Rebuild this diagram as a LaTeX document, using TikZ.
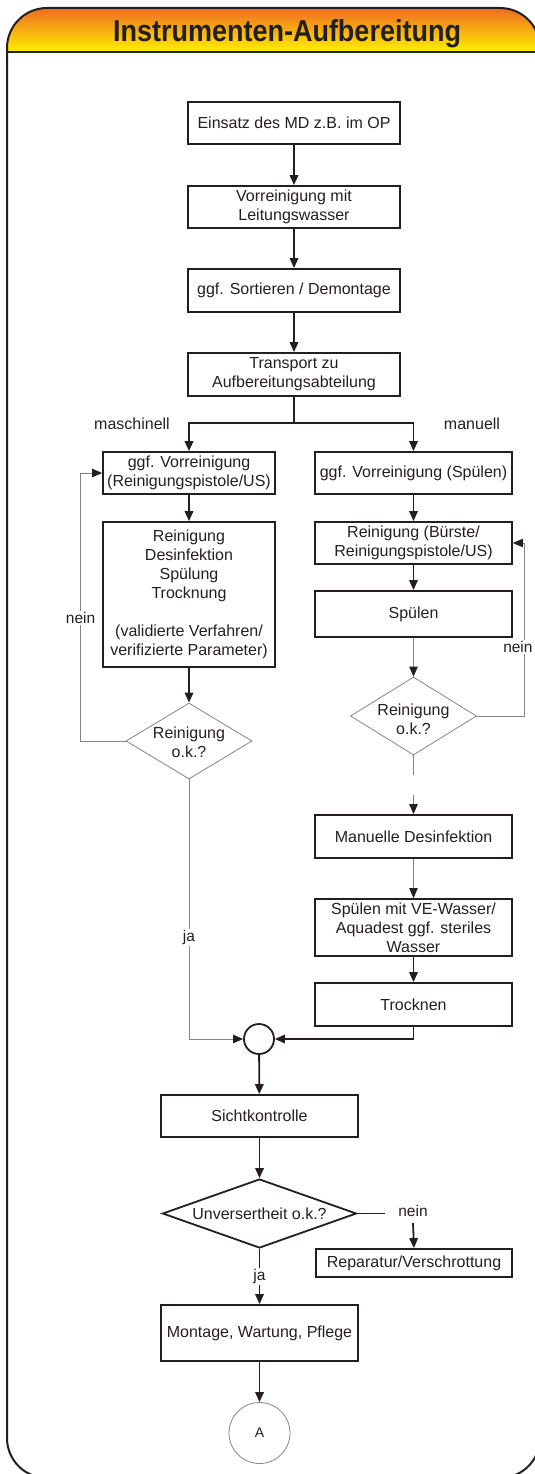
\documentclass[tikz,border=0pt]{standalone}
\usepackage{fontspec}
\setmainfont{Liberation Sans}
\usetikzlibrary{arrows.meta,shapes.geometric}
\definecolor{ink}{HTML}{231F20}
\definecolor{thin}{HTML}{858585}
\definecolor{hdtop}{RGB}{238,108,35}
\definecolor{hdmid}{RGB}{247,160,25}
\definecolor{hdbot}{RGB}{255,240,0}
\begin{document}
\begin{tikzpicture}[x=1pt,y=-1pt,
  every node/.style={text=ink,font=\fontsize{16}{19}\selectfont},
  box/.style={draw=ink,line width=1.8pt,rectangle,align=center,inner sep=0pt},
  dia/.style={diamond,draw=thin,line width=0.8pt,inner sep=0pt},
  thk/.style={draw=ink,line width=1.8pt},
  thn/.style={draw=thin,line width=0.8pt},
  arr/.style={-{Triangle[length=10pt,width=8.5pt,color=ink]}},
  lbl/.style={fill=white,inner sep=1.5pt,font=\fontsize{15.5}{18}\selectfont}]
\useasboundingbox (0,0) rectangle (535,1474);
% frame and header
\begin{scope}
\clip[rounded corners=40pt] (7,8) rectangle (540,1478);
\shade[top color=hdtop,middle color=hdmid,bottom color=hdbot] (7,8) rectangle (540,52);
\end{scope}
\draw[ink,line width=1.6pt] (7,52) -- (540,52);
\draw[ink,line width=2pt,rounded corners=40pt] (7,8) rectangle (540,1478);
\node[font=\fontsize{27}{30}\selectfont\bfseries,anchor=base,inner sep=0pt] (title) at (287,42) {\scalebox{1}[1.12]{Instrumenten-Aufbereitung}};
% main column
\node[box,minimum width=212pt,minimum height=42pt] (B1) at (294,123) {Einsatz des MD z.B. im OP};
\node[box,minimum width=212pt,minimum height=42pt] (B2) at (294,207) {Vorreinigung mit\\Leitungswasser};
\node[box,minimum width=212pt,minimum height=43pt] (B3) at (294,290.5) {ggf. Sortieren / Demontage};
\node[box,minimum width=212pt,minimum height=43pt] (B4) at (294,374.5) {Transport zu\\Aufbereitungsabteilung};
\coordinate (br) at (294,423);
\node (lm) at (132,424) {maschinell};
\node (lr) at (472,424) {manuell};
% left branch
\node[box,minimum width=172pt,minimum height=42pt] (L1) at (189,473) {ggf. Vorreinigung\\(Reinigungspistole/US)};
\node[box,minimum width=172pt,minimum height=145pt] (L2) at (189,594.5) {Reinigung\\Desinfektion\\Spülung\\Trocknung\\[19pt](validierte Verfahren/\\verifizierte Parameter)};
\node[dia,minimum width=126pt,minimum height=76pt] (LD) at (189,741) {};
\node[align=center] (LDt) at (189,742) {Reinigung\\o.k.?};
% right branch
\node[box,minimum width=197pt,minimum height=42pt] (R1) at (413.5,473) {ggf. Vorreinigung (Spülen)};
\node[box,minimum width=197pt,minimum height=42pt] (R2) at (413.5,543) {Reinigung (Bürste/\\Reinigungspistole/US)};
\node[box,minimum width=197pt,minimum height=46pt] (R3) at (413.5,614) {Spülen};
\node[dia,minimum width=126pt,minimum height=78pt] (RD) at (413.5,716) {};
\node[align=center] (RDt) at (413.5,719) {Reinigung\\o.k.?};
\coordinate (g1) at (413.5,775);
\coordinate (g2) at (413.5,795);
\node[box,minimum width=197pt,minimum height=43pt] (R4) at (413.5,836.5) {Manuelle Desinfektion};
\node[box,minimum width=197pt,minimum height=57pt] (R5) at (413.5,927.5) {Spülen mit VE-Wasser/\\Aquadest ggf. steriles\\Wasser};
\node[box,minimum width=197pt,minimum height=43pt] (R6) at (413.5,1004.5) {Trocknen};
% merge
\node[circle,draw=ink,line width=1.8pt,minimum size=30pt,inner sep=0pt] (M) at (259,1039) {};
\node[box,minimum width=197pt,minimum height=42pt] (S) at (259.5,1116) {Sichtkontrolle};
\node[diamond,draw=ink,line width=1.8pt,inner sep=0pt,minimum width=194pt,minimum height=69pt] (UD) at (259.5,1213.5) {};
\node (UDt) at (259.5,1214) {Unversertheit o.k.?};
\node[box,minimum width=196pt,minimum height=28pt] (RV) at (414,1263) {Reparatur/Verschrottung};
\coordinate (n1) at (385,1213.5);
\node[lbl] (nU) at (413,1211) {nein};
\coordinate (n2) at (413,1223);
\node[box,minimum width=197pt,minimum height=56pt] (MO) at (259.5,1333) {Montage, Wartung, Pflege};
\node[circle,draw=thin,line width=0.8pt,minimum size=61pt,inner sep=0pt,font=\fontsize{14}{16}\selectfont] (A) at (259.5,1433) {A};
% connectors main
\draw[thk,arr] (B1) -- (B2);
\draw[thk,arr] (B2) -- (B3);
\draw[thk,arr] (B3) -- (B4);
\draw[thk] (B4.south) -- (br);
\draw[thk,arr] (br) -| (L1.north);
\draw[thk,arr] (br) -| (R1.north);
\draw[thk,arr] (L1) -- (L2);
\draw[thk,arr] (L2.south) -- (LD.north);
\draw[thn,arr] (LD.west) -- ++(-45,0) |- node[lbl,pos=0.23] {nein} (L1.west);
\draw[thk,arr] (R1) -- (R2);
\draw[thk,arr] (R2) -- (R3);
\draw[thn,arr] (R3.south) -- (RD.north);
\draw[thn,arr] (RD.east) -- ++(47,0) |- node[lbl,pos=0.2,xshift=-6pt] {nein} (R2.east);
\draw[thn] (RD.south) -- (g1);
\draw[thn,arr] (g2) -- (R4.north);
\draw[thn,arr] (R4) -- (R5);
\draw[thk,arr] (R5) -- (R6);
\draw[thk,arr] (R6.south) |- (M.east);
\draw[thn,arr] (LD.south) |- node[lbl,pos=0.305] {ja} (M.west);
\draw[thk,arr] (M) -- (S);
\draw[thk,arr] (S) -- (UD.north);
\draw[thk] (UD.east) -- (n1);
\draw[thk,arr] (n2) -- (RV.north);
\draw[thk,arr] (UD.south) -- node[lbl] {ja} (MO.north);
\draw[thk,arr] (MO) -- (A);
\end{tikzpicture}
\end{document}
